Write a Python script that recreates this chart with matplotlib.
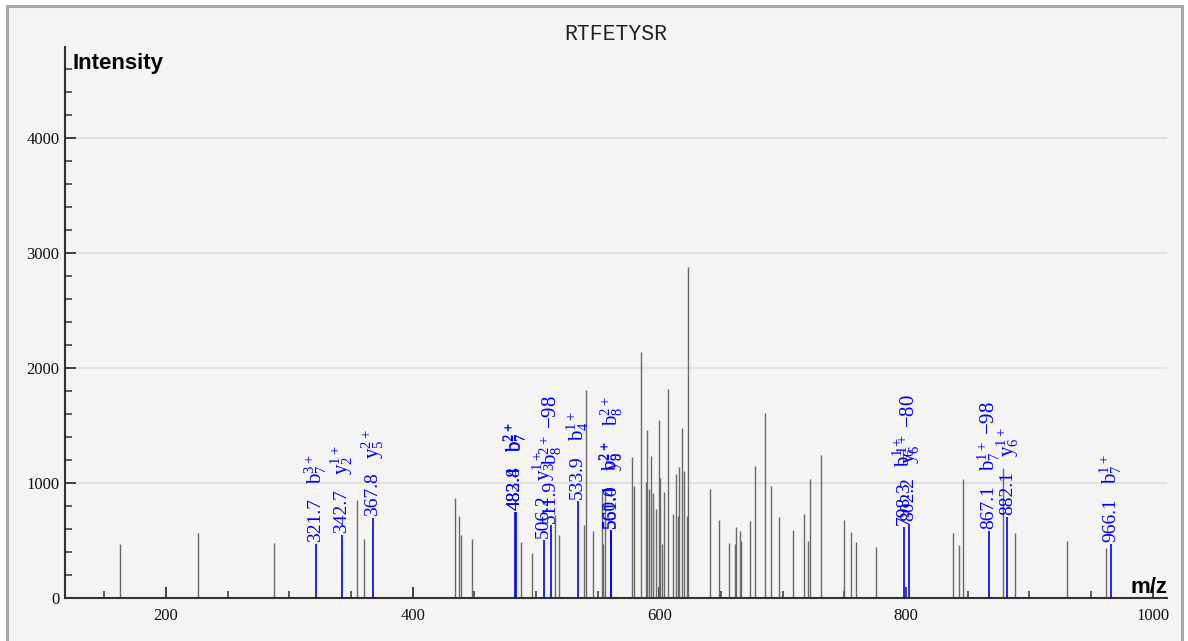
import matplotlib
matplotlib.use("Agg")
import matplotlib.pyplot as plt
from matplotlib.patches import Rectangle
from matplotlib.ticker import MultipleLocator, FixedLocator

# ---------------- data ----------------
title = "RTFETYSR"

gray_mz = [163.0, 226.0, 287.9, 354.9, 360.8, 434.3, 437.3, 439.2, 448.1, 488.1,
           496.5, 515.6, 518.6, 539.3, 540.9, 546.2, 553.2, 554.5, 556.2, 577.6,
           579.2, 585.1, 588.9, 589.7, 591.6, 593.0, 595.1, 597.0, 599.7, 600.9,
           602.4, 604.0, 606.7, 611.3, 613.2, 615.3, 616.3, 618.1, 620.2, 622.0,
           623.2, 641.0, 648.3, 656.7, 661.0, 662.3, 665.6, 666.4, 673.7, 677.5,
           685.6, 690.5, 697.0, 708.3, 717.2, 720.2, 722.3, 731.4, 749.6, 755.7,
           759.1, 775.8, 838.2, 842.9, 846.4, 878.8, 888.3, 930.4, 961.8]
gray_int = [470, 568, 484, 852, 519, 875, 713, 548, 519, 490,
            397, 720, 548, 635, 1809, 583, 950, 475, 935, 1229,
            974, 2136, 1006, 1461, 948, 1235, 916, 774, 1548, 1046,
            475, 925, 1815, 730, 1078, 716, 1142, 1481, 1104, 713,
            2875, 948, 684, 484, 470, 615, 583, 499, 667, 1148,
            1612, 977, 710, 594, 730, 499, 1038, 1243, 684, 577,
            490, 449, 563, 461, 1032, 1133, 563, 499, 441]

ion_mz = [321.7, 342.7, 367.8, 482.8, 483.4, 506.2, 511.9, 533.9, 560.4, 561.0,
          798.3, 802.2, 867.1, 882.1, 966.1]
ion_int = [475, 548, 693, 750, 750, 504, 635, 845, 591, 591,
           620, 649, 585, 707, 470]
ion_labels = [
    [r"$\mathrm{b}_{7}^{3+}$"],
    [r"$\mathrm{y}_{2}^{1+}$"],
    [r"$\mathrm{y}_{5}^{2+}$"],
    [r"$\mathrm{b}_{7}^{2+}$"],
    [r"$\mathrm{b}_{7}^{2+}$"],
    [r"$\mathrm{y}_{3}^{1+}$"],
    [r"$\mathrm{b}_{8}^{2+}$" + " \u221298"],
    [r"$\mathrm{b}_{4}^{1+}$"],
    [r"$\mathrm{b}_{9}^{2+}$"],
    [r"$\mathrm{y}_{8}^{2+}$", r"$\mathrm{b}_{8}^{2+}$"],
    [r"$\mathrm{b}_{6}^{1+}$"],
    [r"$\mathrm{y}_{6}^{1+}$" + " \u221280"],
    [r"$\mathrm{b}_{7}^{1+}$" + " \u221298"],
    [r"$\mathrm{y}_{6}^{1+}$"],
    [r"$\mathrm{b}_{7}^{1+}$"],
]

x_ticks = [200, 400, 600, 800, 1000]
y_ticks = [0, 1000, 2000, 3000, 4000]

# ---------------- style ----------------
plt.rcParams["mathtext.fontset"] = "custom"
plt.rcParams["mathtext.rm"] = "Liberation Serif"
plt.rcParams["mathtext.it"] = "Liberation Serif:italic"
plt.rcParams["mathtext.bf"] = "Liberation Serif:bold"

W, H = 1188, 641
fig = plt.figure(figsize=(W / 100, H / 100), dpi=100)
fig.patch.set_facecolor("white")
fig.patches.append(Rectangle((6.5 / W, -0.05), (1182 - 6.5) / W, 1.05 - 6.5 / H,
                             transform=fig.transFigure, facecolor="#f4f4f4",
                             edgecolor="#a9a9a9", linewidth=2.2, zorder=-10))

ax_l, ax_r, ax_b, ax_t = 65, 1167, 598.3, 46.7
ax = fig.add_axes([ax_l / W, (H - ax_b) / H, (ax_r - ax_l) / W, (ax_b - ax_t) / H])
ax.set_facecolor("none")

ax.set_xlim(118.2, 1011.5)
ax.set_ylim(0, 4790)

ax.vlines(gray_mz, 0, gray_int, colors="#6a6a6a", linewidth=1.0, zorder=2)
ax.vlines(ion_mz, 0, ion_int, colors="#0000ff", linewidth=1.2, zorder=3)

for mz, it, labs in zip(ion_mz, ion_int, ion_labels):
    ax.annotate(f"{mz:.1f}", xy=(mz, it), xytext=(0, 1.5), textcoords="offset points",
                rotation=90, ha="center", va="bottom", color="#0000ff",
                fontsize=14, family="Liberation Serif", zorder=4)
    for k, lab in enumerate(labs):
        ax.annotate(lab, xy=(mz, it), xytext=(0, 43 + 32 * k), textcoords="offset points",
                    rotation=90, ha="center", va="bottom", color="#0000ff",
                    fontsize=15, family="Liberation Serif", zorder=4)

for s in ["top", "right"]:
    ax.spines[s].set_visible(False)
for s in ["left", "bottom"]:
    ax.spines[s].set_color("#333333")
    ax.spines[s].set_linewidth(1.5)

ax.xaxis.set_major_locator(FixedLocator(x_ticks))
ax.xaxis.set_minor_locator(MultipleLocator(50))
ax.yaxis.set_major_locator(FixedLocator(y_ticks))
ax.yaxis.set_minor_locator(MultipleLocator(200))
ax.tick_params(which="major", direction="in", length=8, width=1.3, color="#333333",
               labelsize=12, labelcolor="#111111")
ax.tick_params(which="minor", direction="in", length=4.7, width=1.1, color="#333333")
ax.tick_params(axis="x", which="major", pad=7)
ax.tick_params(axis="y", which="major", pad=4)
for lbl in ax.get_xticklabels() + ax.get_yticklabels():
    lbl.set_family("Liberation Serif")

ax.set_axisbelow(True)
ax.yaxis.grid(True, which="major", color="#dedede", linewidth=1.2)

fig.text(616 / W, 1 - 35 / H, title, ha="center", va="center",
         family="Liberation Mono", fontsize=15.5, color="#222222")
fig.text(72 / W, 1 - 69 / H, "Intensity", ha="left", va="baseline",
         family="Liberation Sans", fontweight="bold", fontsize=16)
fig.text(1167 / W, 1 - 593 / H, "m/z", ha="right", va="baseline",
         family="Liberation Sans", fontweight="bold", fontsize=16)

fig.savefig("out.png", dpi=100, facecolor=fig.get_facecolor())
